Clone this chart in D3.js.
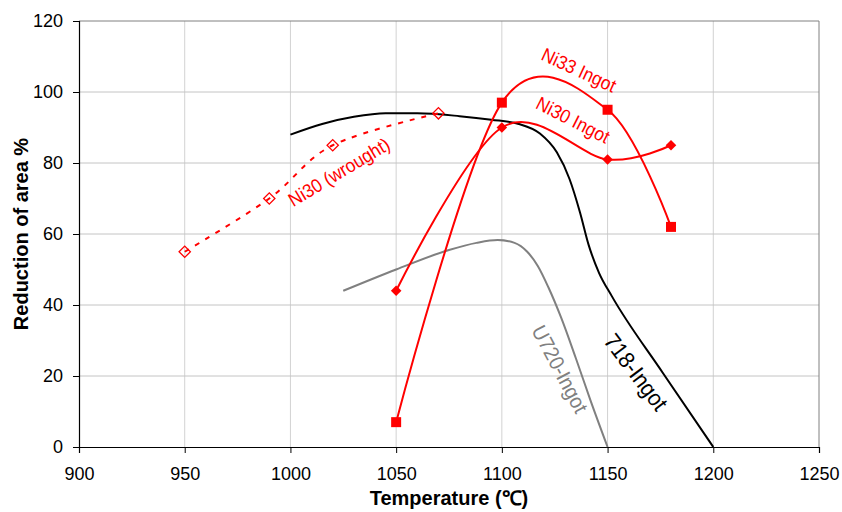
<!DOCTYPE html>
<html>
<head>
<meta charset="utf-8">
<script src="https://cdn.jsdelivr.net/npm/d3@7"></script>
<style>
  html, body { margin: 0; padding: 0; background: #fff; }
  svg { display: block; font-family: "Liberation Sans", Arial, sans-serif; }
</style>
</head>
<body>
<svg id="chart" width="842" height="512"></svg>
<script>
// ---------- data ----------
const xTicks = [900, 950, 1000, 1050, 1100, 1150, 1200, 1250];
const yTicks = [0, 20, 40, 60, 80, 100, 120];

// 718-Ingot (black smooth curve, no markers)
const ingot718T = [1000, 1015, 1030, 1045, 1060, 1080, 1095, 1108, 1118, 1126, 1132, 1137, 1141, 1146, 1152, 1176, 1200];
const ingot718V = [88, 91, 93, 94, 94, 93.2, 92.2, 91, 88.3, 83, 75.5, 66, 57, 49, 42.5, 21, 0];

// U720-Ingot (grey smooth curve, no markers)
const u720T = [1025, 1050, 1075, 1088, 1098, 1106, 1112, 1117, 1122, 1128, 1135, 1142, 1150];
const u720V = [44, 50, 55.5, 57.5, 58.3, 57.5, 55, 51, 45, 36.5, 25, 13, 0];

// Ni30 (wrought) – open diamonds, dashed
const ni30wT = [950, 990, 1020, 1070];
const ni30wV = [55, 70, 85, 94];

// Ni33 Ingot – filled squares
const ni33T = [1050, 1100, 1150, 1180];
const ni33V = [7, 97, 95, 62];

// Ni30 Ingot – filled diamonds
const ni30T = [1050, 1100, 1150, 1180];
const ni30V = [44, 90, 81, 85];

const zip = (a, b) => a.map((t, i) => [t, b[i]]);

// ---------- layout ----------
const W = 842, H = 512;
const m = { left: 79, right: 23, top: 21, bottom: 65 };
const svg = d3.select("#chart");

const x = d3.scaleLinear().domain([900, 1250]).range([m.left, W - m.right]);
const y = d3.scaleLinear().domain([0, 120]).range([H - m.bottom, m.top]);

// gridlines
svg.append("g").selectAll("line").data(xTicks.slice(1, -1)).join("line")
  .attr("x1", d => x(d)).attr("x2", d => x(d))
  .attr("y1", y(0)).attr("y2", y(120))
  .attr("stroke", "#d2d2d2").attr("stroke-width", 1);
svg.append("g").selectAll("line").data(yTicks.slice(1, -1)).join("line")
  .attr("x1", x(900)).attr("x2", x(1250))
  .attr("y1", d => y(d)).attr("y2", d => y(d))
  .attr("stroke", "#c4c4c4").attr("stroke-width", 1);

// top and right border
svg.append("path")
  .attr("d", `M${x(900)},${y(120)}H${x(1250)}V${y(0)}`)
  .attr("fill", "none").attr("stroke", "#808080").attr("stroke-width", 1);

// axes
const xAxis = svg.append("g").attr("transform", `translate(0,${y(0)})`)
  .call(d3.axisBottom(x).tickValues(xTicks).tickSize(6).tickPadding(14).tickFormat(d3.format("d")));
const yAxis = svg.append("g").attr("transform", `translate(${x(900)},0)`)
  .call(d3.axisLeft(y).tickValues(yTicks).tickSize(6).tickPadding(10));
[xAxis, yAxis].forEach(g => {
  g.selectAll("text").attr("font-size", 18).attr("fill", "#000")
    .attr("font-family", "'Liberation Sans', Arial, sans-serif");
  g.selectAll("line").attr("stroke", "#000");
  g.select(".domain").attr("stroke", "#000").attr("stroke-width", 1.2);
});

// axis titles
svg.append("text")
  .attr("x", (x(900) + x(1250)) / 2).attr("y", 505)
  .attr("text-anchor", "middle").attr("font-size", 20).attr("font-weight", "bold")
  .text("Temperature (℃)");
svg.append("text")
  .attr("transform", `translate(28,${(y(0) + y(120)) / 2}) rotate(-90)`)
  .attr("text-anchor", "middle").attr("font-size", 20).attr("font-weight", "bold")
  .text("Reduction of area %");

// ---------- series ----------
const smooth = d3.line().x(d => x(d[0])).y(d => y(d[1])).curve(d3.curveMonotoneX);
const excel = d3.line().x(d => x(d[0])).y(d => y(d[1])).curve(d3.curveCardinal.tension(0));

const plot = svg.append("g");

plot.append("path").attr("d", smooth(zip(ingot718T, ingot718V)))
  .attr("fill", "none").attr("stroke", "#000").attr("stroke-width", 2);
plot.append("path").attr("d", smooth(zip(u720T, u720V)))
  .attr("fill", "none").attr("stroke", "#808080").attr("stroke-width", 2);

plot.append("path").attr("d", excel(zip(ni30wT, ni30wV)))
  .attr("fill", "none").attr("stroke", "#ff0000").attr("stroke-width", 2)
  .attr("stroke-dasharray", "5,7");
plot.append("path").attr("d", excel(zip(ni33T, ni33V)))
  .attr("fill", "none").attr("stroke", "#ff0000").attr("stroke-width", 2);
plot.append("path").attr("d", excel(zip(ni30T, ni30V)))
  .attr("fill", "none").attr("stroke", "#ff0000").attr("stroke-width", 2);

const sq = d3.symbol().type(d3.symbolSquare).size(100)();
const dia = d3.symbol().type(d3.symbolSquare).size(56)();
const diaOpen = d3.symbol().type(d3.symbolSquare).size(64)();

plot.append("g").selectAll("path").data(zip(ni30wT, ni30wV)).join("path")
  .attr("d", diaOpen)
  .attr("transform", d => `translate(${x(d[0])},${y(d[1])}) rotate(45)`)
  .attr("fill", "none").attr("stroke", "#ff0000").attr("stroke-width", 1.3);
plot.append("g").selectAll("path").data(zip(ni33T, ni33V)).join("path")
  .attr("d", sq)
  .attr("transform", d => `translate(${x(d[0])},${y(d[1])})`)
  .attr("fill", "#ff0000");
plot.append("g").selectAll("path").data(zip(ni30T, ni30V)).join("path")
  .attr("d", dia)
  .attr("transform", d => `translate(${x(d[0])},${y(d[1])}) rotate(45)`)
  .attr("fill", "#ff0000");

// ---------- series labels ----------
const labels = [
  { text: "Ni33 Ingot", cx: 579, cy: 70, a: 25, size: 19, color: "#ff0000" },
  { text: "Ni30 Ingot", cx: 573, cy: 120, a: 27, size: 19, color: "#ff0000" },
  { text: "Ni30 (wrought)", cx: 339, cy: 172, a: -31, size: 19, color: "#ff0000" },
  { text: "U720-Ingot", cx: 560, cy: 369, a: 62, size: 21, color: "#808080" },
  { text: "718-Ingot", cx: 636, cy: 372, a: 53, size: 23, color: "#000" }
];
svg.append("g").selectAll("text").data(labels).join("text")
  .attr("transform", d => `translate(${d.cx},${d.cy}) rotate(${d.a}) scale(0.92,1)`)
  .attr("text-anchor", "middle").attr("dy", "0.35em")
  .attr("font-size", d => d.size).attr("fill", d => d.color)
  .text(d => d.text);
</script>
</body>
</html>
